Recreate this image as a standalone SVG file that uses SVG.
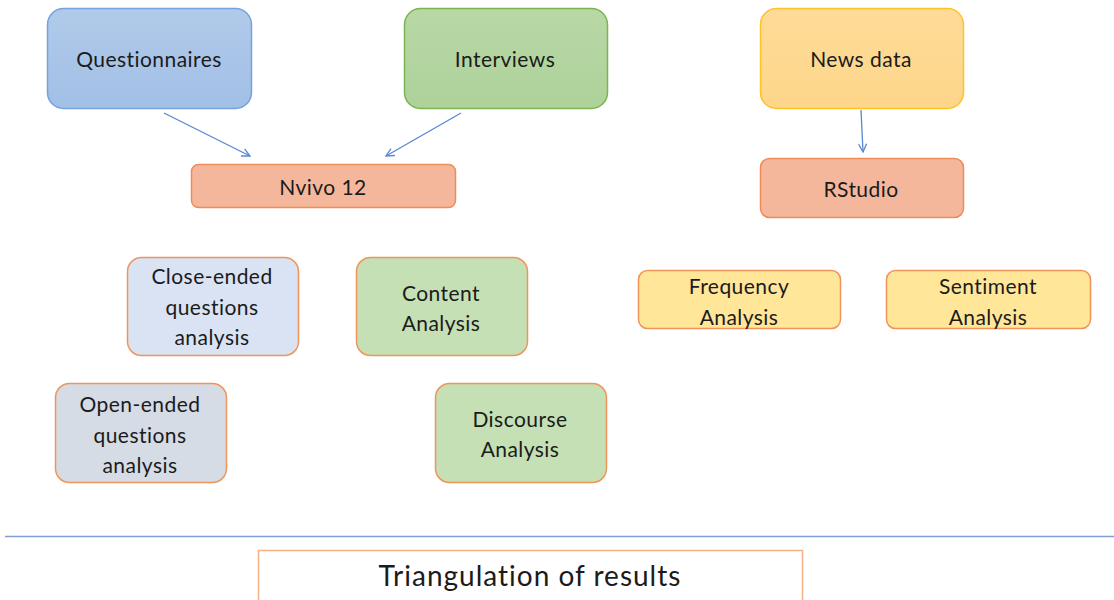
<svg xmlns="http://www.w3.org/2000/svg" width="1114" height="600" viewBox="0 0 1114 600">
<style>
text{font-family:Lato,"Open Sans","Liberation Sans",sans-serif;font-size:21px;letter-spacing:0.45px;fill:#1b1b1b;text-anchor:middle;dominant-baseline:central}
.big{stroke-width:1.5}
.res{fill:#f5b79b;stroke:#ee8c5a;stroke-width:1.5}
.orange{stroke:#f0955a;stroke-width:1.5}
.conn{stroke:#5a86d4;stroke-width:1.3;fill:none;marker-end:url(#ah)}
</style>
<defs>
<marker id="ah" viewBox="0 0 10 10" refX="9" refY="5" markerWidth="10" markerHeight="10" markerUnits="userSpaceOnUse" orient="auto">
<path d="M1,1 L9,5 L1,9" fill="none" stroke="#5a86d4" stroke-width="1.3"/>
</marker>
<linearGradient id="gb" x1="0" y1="0" x2="0" y2="1"><stop offset="0" stop-color="#b0cae9"/><stop offset="1" stop-color="#a2bfe6"/></linearGradient>
<linearGradient id="gg" x1="0" y1="0" x2="0" y2="1"><stop offset="0" stop-color="#b8d8a6"/><stop offset="1" stop-color="#aed29a"/></linearGradient>
<linearGradient id="gy" x1="0" y1="0" x2="0" y2="1"><stop offset="0" stop-color="#fedb98"/><stop offset="1" stop-color="#fdd68a"/></linearGradient>
</defs>
<g id="connectors">
<line class="conn" x1="164" y1="113" x2="250" y2="156"/>
<line class="conn" x1="461" y1="113" x2="386" y2="156"/>
<line class="conn" x1="861" y1="110" x2="863" y2="152"/>
<line x1="5" y1="536.5" x2="1114" y2="536.5" stroke="#7f9fd8" stroke-width="1.5"/>
</g>
<g id="questionnaires"><rect class="big" x="47.5" y="8.5" width="204" height="100" rx="16" fill="url(#gb)" stroke="#76a3dc"/><text x="149" y="58">Questionnaires</text></g>
<g id="interviews"><rect class="big" x="404.5" y="8.5" width="203" height="100" rx="16" fill="url(#gg)" stroke="#7ab552"/><text x="505" y="58">Interviews</text></g>
<g id="newsdata"><rect class="big" x="760.5" y="8.5" width="203" height="100" rx="16" fill="url(#gy)" stroke="#ffc32a"/><text x="861" y="58">News data</text></g>
<g id="nvivo"><rect class="res" x="191.5" y="164.5" width="264" height="43" rx="7"/><text x="323" y="186">Nvivo 12</text></g>
<g id="rstudio"><rect class="res" x="760.5" y="158.5" width="203" height="59" rx="9"/><text x="861" y="188">RStudio</text></g>
<g id="closeended"><rect class="orange" x="127.5" y="257.5" width="171" height="98" rx="14" fill="#dae3f3"/><text x="212" y="275">Close-ended</text><text x="212" y="306">questions</text><text x="212" y="336">analysis</text></g>
<g id="content"><rect class="orange" x="356.5" y="257.5" width="171" height="98" rx="14" fill="#c5e0b4"/><text x="441" y="292">Content</text><text x="441" y="322">Analysis</text></g>
<g id="openended"><rect class="orange" x="55.5" y="383.5" width="171" height="99" rx="14" fill="#d6dce5"/><text x="140" y="403">Open-ended</text><text x="140" y="434">questions</text><text x="140" y="464">analysis</text></g>
<g id="discourse"><rect class="orange" x="435.5" y="383.5" width="171" height="99" rx="14" fill="#c5e0b4"/><text x="520" y="418">Discourse</text><text x="520" y="448">Analysis</text></g>
<g id="frequency"><rect class="orange" x="638.5" y="270.5" width="202" height="58" rx="9" fill="#ffe699"/><text x="739" y="285">Frequency</text><text x="739" y="316">Analysis</text></g>
<g id="sentiment"><rect class="orange" x="886.5" y="270.5" width="204" height="58" rx="9" fill="#ffe699"/><text x="988" y="285">Sentiment</text><text x="988" y="316">Analysis</text></g>
<g id="triangulation"><rect x="258.5" y="550.5" width="544" height="70" fill="#ffffff" stroke="#f4b183" stroke-width="1.5"/><text x="530" y="575" style="font-size:28px;letter-spacing:1px">Triangulation of results</text></g>
</svg>
